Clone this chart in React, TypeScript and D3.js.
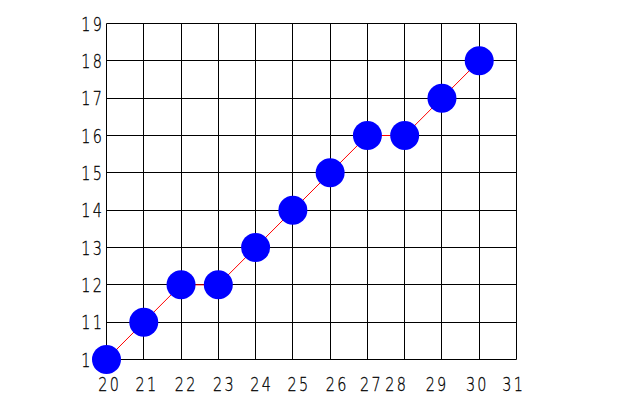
import React from "react";
import * as d3 from "d3";

const xValues = [20, 21, 22, 23, 24, 25, 26, 27, 28, 29, 30];
const yValues = [10, 11, 12, 12, 13, 14, 15, 16, 16, 17, 18];
const xTicks = [20, 21, 22, 23, 24, 25, 26, 27, 28, 29, 30, 31];
const yTicks = [10, 11, 12, 13, 14, 15, 16, 17, 18, 19];
// small horizontal nudges of the x tick labels as seen in the reference
const xLabelNudge = [2, 2, 4, 5, 5, 5, 6, 3, -9, -6, -3, -4];

const W = 627;
const H = 408;

export default function App() {
  const x = d3.scaleLinear().domain([20, 31]).range([106.5, 516.5]);
  const y = d3.scaleLinear().domain([10, 19]).range([359.5, 23.5]);
  const pts = xValues.map((v, i) => [v, yValues[i]] as [number, number]);
  const line = d3
    .line<[number, number]>()
    .x((d) => x(d[0]))
    .y((d) => y(d[1]));
  const font = "'DejaVu Sans', sans-serif";
  const ls = 3;
  const sx = 0.76;
  const textProps = {
    fontFamily: font,
    fontWeight: 200,
    letterSpacing: ls,
    fontSize: 19,
    fill: "#000",
    stroke: "#000",
    strokeWidth: 0.3,
  };
  return (
    <svg
      width={W}
      height={H}
      style={{ position: "absolute", left: 0, top: 0, background: "#fff" }}
    >
      <rect width={W} height={H} fill="#fff" />
      {xTicks.map((t) => (
        <line
          key={"vx" + t}
          x1={Math.round(x(t) - 0.5) + 0.5}
          x2={Math.round(x(t) - 0.5) + 0.5}
          y1={y(19)}
          y2={y(10)}
          stroke="#000"
          strokeWidth={1}
        />
      ))}
      {yTicks.map((t) => (
        <line
          key={"hy" + t}
          x1={x(20)}
          x2={x(31)}
          y1={Math.round(y(t) - 0.5) + 0.5}
          y2={Math.round(y(t) - 0.5) + 0.5}
          stroke="#000"
          strokeWidth={1}
        />
      ))}
      {xTicks.map((t, i) => (
        <text
          key={"xl" + t}
          transform={`translate(${x(t) + xLabelNudge[i]},391) scale(${sx},1)`}
          x={ls / 2}
          y={0}
          textAnchor="middle"
          {...textProps}
        >
          {t}
        </text>
      ))}
      {yTicks.map((t) => (
        <text
          key={"yl" + t}
          transform={`translate(102,${y(t) + 7}) scale(${sx},1)`}
          x={ls}
          y={0}
          textAnchor="end"
          {...textProps}
        >
          {t}
        </text>
      ))}
      <path d={line(pts) || ""} fill="none" stroke="#ff0000" strokeWidth={1} />
      {pts.map((p, i) => (
        <circle key={"c" + i} cx={x(p[0])} cy={y(p[1])} r={14.5} fill="#0000ff" />
      ))}
    </svg>
  );
}
